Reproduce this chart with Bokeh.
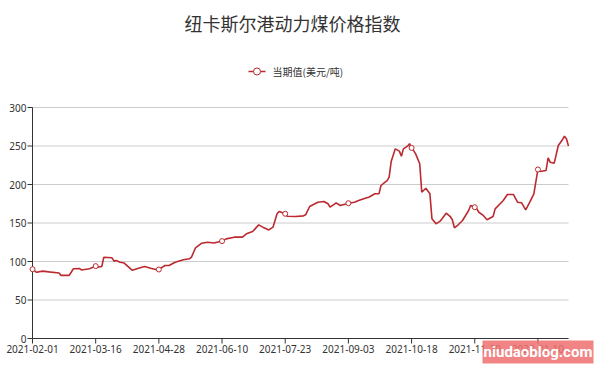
import math
from bokeh.plotting import figure
from bokeh.models import Range1d
from bokeh.core.properties import value
from bokeh.embed import file_html
from bokeh.resources import INLINE

title_text = "纽卡斯尔港动力煤价格指数"
series_name = "当期值(美元/吨)"
watermark = "niudaoblog.com"

tick_index = [0, 31, 62, 93, 124, 155, 186, 217, 248]
tick_labels = ["2021-02-01", "2021-03-16", "2021-04-28", "2021-06-10", "2021-07-23",
               "2021-09-03", "2021-10-18", "2021-11-29", "2022-01-10"]
y_ticks = [0, 50, 100, 150, 200, 250, 300]

day_index = [0, 2, 5, 8, 13, 14, 18, 19, 20, 23, 24, 28, 31, 32, 34, 35, 39, 40, 41, 43,
             45, 49, 52, 55, 58, 61, 62, 63, 65, 67, 70, 74, 77, 78, 80, 83, 86, 89, 93, 95,
             99, 103, 105, 108, 111, 113, 116, 118, 120, 121, 124, 125, 129, 133, 134, 136, 140, 143, 145, 146,
             149, 151, 155, 158, 160, 164, 165, 168, 170, 171, 173, 174, 175, 176, 178, 180, 181, 182, 184, 185,
             186, 187, 188, 190, 191, 193, 195, 196, 198, 200, 203, 205, 206, 207, 209, 211, 214, 215, 217, 218,
             219, 221, 223, 226, 227, 231, 233, 236, 238, 240, 242, 244, 246, 248, 249, 252, 253, 254, 256, 258,
             260, 261, 262, 263]
price = [90, 86, 87.5, 86.5, 85, 82, 82, 86, 90.5, 91, 89, 90.5, 94, 92.6, 93.5, 105.6, 104.8, 100.4, 101.3, 99,
         98, 88.5, 91.3, 93.5, 91.3, 89.2, 89.6, 91.3, 94.8, 94.8, 99, 102.2, 103.5, 105.6, 117.8, 123.8, 125, 124, 126.5, 129.4,
         131.6, 131.6, 136, 139, 147.6, 144.6, 141, 144.6, 162, 165, 162, 158.8, 158.4, 159.3, 160.6, 171.4, 177, 178, 175, 170.5,
         176.2, 172.7, 175.7, 177, 179.2, 182.7, 183.5, 187.9, 187.9, 198.7, 203, 205, 209.5, 230, 246.3, 243.3, 236.8, 246.3, 249.8, 253,
         247.5, 244, 239.8, 226.9, 190, 195.2, 187.9, 155.4, 148.9, 152.4, 162.8, 158.4, 154.2, 143.8, 148, 153.2, 166.2, 172.7, 170.5, 168.4,
         164, 160.3, 154.2, 158.4, 168.4, 179.2, 187, 187, 177, 176.2, 167.1, 177, 187.9, 219.5, 216.9, 218.2, 234.7, 229, 227.7, 250.6,
         258, 262.7, 259.3, 249.8]

# ---- layout (pixels) ----
W, H = 599, 369
X0_PX, X1_PX = 32, 568      # plot area left/right
Y0_PX, Y1_PX = 338, 107     # plot area bottom/top
RED = "#bb2a30"
TXT = "#333333"
AXIS = "#333333"
GRID = "#cccccc"

x_first, x_last = day_index[0], day_index[-1]
y_min, y_max = y_ticks[0], y_ticks[-1]
sx = (X1_PX - X0_PX) / (x_last - x_first)
sy = (Y0_PX - Y1_PX) / (y_max - y_min)


def px_x(px):
    return x_first + (px - X0_PX) / sx


def px_y(py):
    return y_min + (Y0_PX - py) / sy


p = figure(width=W, height=H, output_backend="svg", toolbar_location=None,
           x_range=Range1d(px_x(0), px_x(W)), y_range=Range1d(px_y(H), px_y(0)),
           x_axis_location=None, y_axis_location=None,
           min_border=0, min_border_left=0, min_border_right=0, min_border_top=0, min_border_bottom=0)
p.outline_line_color = None
p.background_fill_color = "white"
p.border_fill_color = "white"
p.xgrid.visible = False
p.ygrid.visible = False

# grid lines
p.segment(x0=[x_first] * len(y_ticks), y0=y_ticks, x1=[x_last] * len(y_ticks), y1=y_ticks,
          line_color=GRID, line_width=1)

# axes lines
p.segment(x0=[x_first], y0=[y_min], x1=[x_first], y1=[y_max], line_color=AXIS, line_width=1)
p.segment(x0=[x_first], y0=[y_min], x1=[x_last], y1=[y_min], line_color=AXIS, line_width=1)

# ticks
p.ray(x=[x_first] * len(y_ticks), y=y_ticks, length=5, length_units="screen",
      angle=math.pi, line_color=AXIS, line_width=1)
p.ray(x=tick_index, y=[y_min] * len(tick_index), length=5, length_units="screen",
      angle=-math.pi / 2, line_color=AXIS, line_width=1)

# tick labels
p.text(x=[x_first] * len(y_ticks), y=y_ticks, text=[str(v) for v in y_ticks],
       x_offset=-6, text_align="right", text_baseline="middle",
       text_font=value("Noto Sans"), text_font_size="10px", text_color=TXT)
p.text(x=tick_index, y=[y_min] * len(tick_index), text=tick_labels,
       y_offset=6, text_align="center", text_baseline="top",
       text_font=value("Noto Sans"), text_font_size="10px", text_color=TXT)

# series
p.line(day_index, price, line_color=RED, line_width=1.6)
mk_x = [i for i in day_index if i in tick_index]
mk_y = [v for i, v in zip(day_index, price) if i in tick_index]
p.scatter(mk_x, mk_y, marker="circle", size=5, fill_color="white", line_color=RED, line_width=1)

# title
p.text(x=[px_x(292)], y=[px_y(22.5)], text=[title_text], text_align="center", text_baseline="middle",
       text_font=value("Noto Sans CJK SC"), text_font_size="18px", text_color=TXT)

# legend
p.line(x=[px_x(248), px_x(265)], y=[px_y(71), px_y(71)], line_color=RED, line_width=1.5)
p.scatter(x=[px_x(256.5)], y=[px_y(71)], marker="circle", size=7, fill_color="white",
          line_color=RED, line_width=1)
p.text(x=[px_x(272)], y=[px_y(71)], text=[series_name], text_align="left", text_baseline="middle",
       text_font=value("Noto Sans CJK SC"), text_font_size="10px", text_color=TXT)

# watermark
p.rect(x=[px_x(537.5)], y=[px_y(351.5)], width=111, height=23, width_units="screen",
       height_units="screen", fill_color="#ee7070", fill_alpha=0.85, line_color=None)
p.text(x=[px_x(537.5)], y=[px_y(351.5)], text=[watermark], text_align="center", text_baseline="middle",
       text_font=value("Roboto"), text_font_style="bold", text_font_size="15px", text_color="white")

open("out.html", "w").write(file_html(p, INLINE))
